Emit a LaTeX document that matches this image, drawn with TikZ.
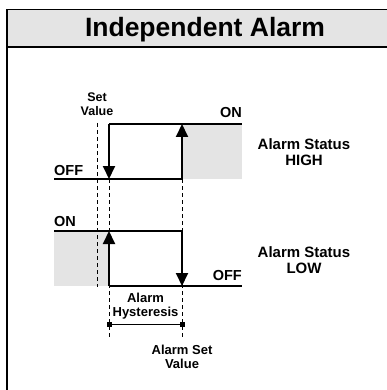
\documentclass[tikz,border=0pt]{standalone}
\usepackage{fontspec}
\setmainfont{Liberation Sans}
\usetikzlibrary{arrows.meta}
\definecolor{bandgray}{HTML}{E4E4E4}
\begin{document}
\begin{tikzpicture}[x=1pt,y=-1pt,
  frameline/.style={line width=1.6pt, black},
  levelline/.style={line width=1.4pt, black},
  transarrow/.style={line width=2pt, -{Triangle[width=12pt,length=13pt]}},
  guideline/.style={line width=0.9pt, dash pattern=on 4pt off 3pt},
  statelbl/.style={font=\bfseries\fontsize{14.5}{16}\selectfont, inner sep=0pt},
  sidelbl/.style={font=\bfseries\fontsize{15}{16.5}\selectfont, align=center, inner sep=0pt},
  smalllbl/.style={font=\bfseries\fontsize{13}{14.5}\selectfont, align=center, inner sep=0pt},
  marker/.style={fill=black, minimum size=5pt, inner sep=0pt, outer sep=0pt, draw=none}
]
\useasboundingbox (0,0) rectangle (387,390);
% frame and header
\coordinate (FTL) at (7,9.5);
\coordinate (FTR) at (388,9.5);
\coordinate (FBL) at (7,391);
\coordinate (HBL) at (7,47);
\coordinate (HBR) at (388,47);
\fill[bandgray] (FTL) rectangle (HBR);
\draw[frameline] (FBL) -- (FTL) -- (FTR);
\draw[frameline] (HBL) -- (HBR);
\node[font=\bfseries\fontsize{26.5}{29}\selectfont, anchor=base, inner sep=0pt] (title) at (205,36.5) {Independent Alarm};

% ---------- top diagram (Alarm Status HIGH) ----------
\coordinate (h0) at (54,179);
\coordinate (h1) at (109,179);
\coordinate (h2) at (182,179);
\coordinate (h3) at (109,124);
\coordinate (h4) at (182,124);
\coordinate (h5) at (242,124);
\coordinate (h6) at (242,179);
\fill[bandgray] (h4) rectangle (h6);
\draw[levelline] (h0) -- (h2);
\draw[levelline] (h3) -- (h5);
\draw[transarrow] (h3) -- (h1);
\draw[transarrow] (h2) -- (h4);

% ---------- lower diagram (Alarm Status LOW) ----------
\coordinate (l0) at (54,231);
\coordinate (l1) at (109,231);
\coordinate (l2) at (182,231);
\coordinate (l3) at (54,286);
\coordinate (l4) at (109,286);
\coordinate (l5) at (182,286);
\coordinate (l6) at (242,286);
\fill[bandgray] (l0) rectangle (l4);
\draw[levelline] (l0) -- (l2);
\draw[levelline] (l4) -- (l6);
\draw[transarrow] (l4) -- (l1);
\draw[transarrow] (l2) -- (l5);

% ---------- guide lines ----------
\coordinate (g0a) at (97,123);
\coordinate (g0b) at (97,287);
\coordinate (g1b) at (109,338);
\coordinate (g2b) at (182,338);
\draw[guideline] (g0a) -- (g0b);
\draw[guideline] (h1) -- (g1b);
\draw[guideline] (h2) -- (g2b);

% ---------- hysteresis span ----------
\node[marker] (m1) at (109,324.5) {};
\node[marker] (m2) at (182,324.5) {};
\draw[line width=1.2pt] (m1) -- (m2);

% ---------- labels ----------
\node[statelbl, anchor=base east] (onH) at (242,118) {ON};
\node[statelbl, anchor=base west] (offH) at (54,175) {OFF};
\node[statelbl, anchor=base west] (onL) at (54,226) {ON};
\node[statelbl, anchor=base east] (offL) at (242,280) {OFF};
\node[smalllbl, font=\bfseries\fontsize{12.5}{14}\selectfont] (setv) at (97,104) {Set\\Value};
\node[sidelbl] (stH) at (304,152) {Alarm Status\\HIGH};
\node[sidelbl] (stL) at (304,260) {Alarm Status\\LOW};
\node[smalllbl] (hyst) at (145.5,306) {Alarm\\Hysteresis};
\node[smalllbl] (asv) at (182,357) {Alarm Set\\Value};
\end{tikzpicture}
\end{document}
